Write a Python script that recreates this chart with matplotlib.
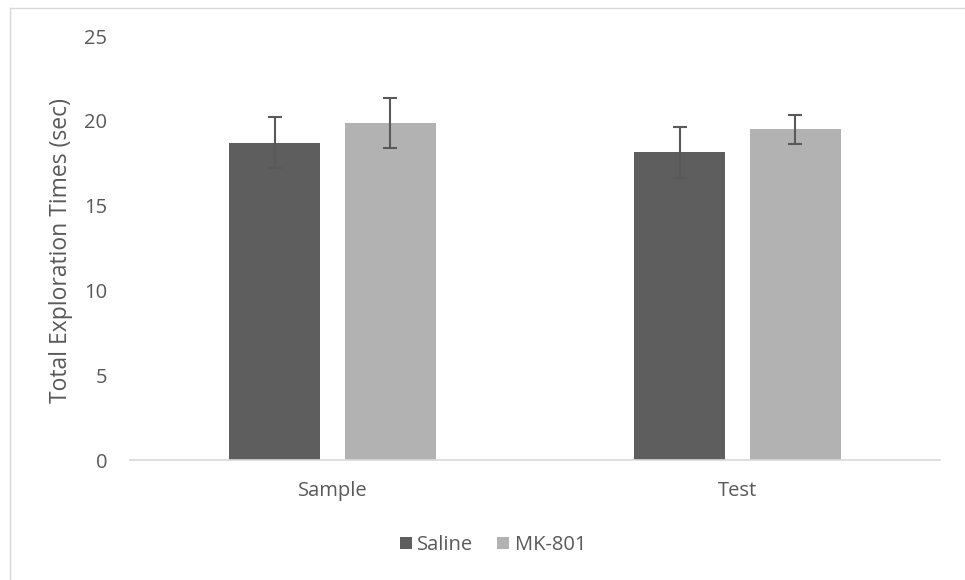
import matplotlib
matplotlib.use("Agg")
import matplotlib.pyplot as plt
from matplotlib.lines import Line2D
import numpy as np

categories = ["Sample", "Test"]
series_names = ["Saline", "MK-801"]
saline = [18.7, 18.15]
saline_err = [1.5, 1.5]
mk801 = [19.85, 19.5]
mk801_err = [1.48, 0.85]
yticks = [0, 5, 10, 15, 20, 25]

plt.rcParams['font.family'] = ['Open Sans', 'DejaVu Sans']
text_color = "#595959"

W, H = 965, 580
fig = plt.figure(figsize=(W/100, H/100), dpi=100)
ax = fig.add_axes([130/W, 1-460/H, (940-130)/W, (460-36)/H])

x = np.arange(len(categories))
w = 0.225
off = 0.143
c1, c2 = "#5e5e5e", "#b2b2b2"
ekw = dict(ecolor="#595959", elinewidth=1.5, capsize=4.7, capthick=1.5)
ax.bar(x - off, saline, w, color=c1, yerr=saline_err, error_kw=ekw, label=series_names[0], zorder=2)
ax.bar(x + off, mk801, w, color=c2, yerr=mk801_err, error_kw=ekw, label=series_names[1], zorder=2)

ax.set_xlim(-0.5, 1.5)
ax.set_ylim(0, 25)
ax.set_yticks(yticks)
ax.set_xticks(x)
ax.set_xticklabels(categories)
for s in ["top", "right", "left"]:
    ax.spines[s].set_visible(False)
ax.spines["bottom"].set_color("#d9d9d9")
ax.spines["bottom"].set_linewidth(1.2)
ax.tick_params(axis="both", length=0, labelsize=14.5, colors=text_color)
ax.tick_params(axis="y", pad=16.5)
ax.tick_params(axis="x", pad=15)

fig.text(61/W, 1-250.5/H, "Total Exploration Times (sec)", rotation=90, ha="center", va="center",
         fontsize=16.5, color=text_color)

leg = fig.legend(loc="center", bbox_to_anchor=(493/W, 1-545/H), ncol=2, frameon=False,
                 fontsize=14.5, handlelength=0.6, handleheight=0.6, handletextpad=0.25,
                 columnspacing=1.2, labelcolor=text_color)

fig.add_artist(Line2D([9.5/W, 9.5/W], [0, 1-7.5/H], transform=fig.transFigure, color="#d9d9d9", lw=1))
fig.add_artist(Line2D([9.5/W, 1], [1-7.5/H, 1-7.5/H], transform=fig.transFigure, color="#d9d9d9", lw=1))
fig.savefig("out.png", dpi=100, facecolor="white")
